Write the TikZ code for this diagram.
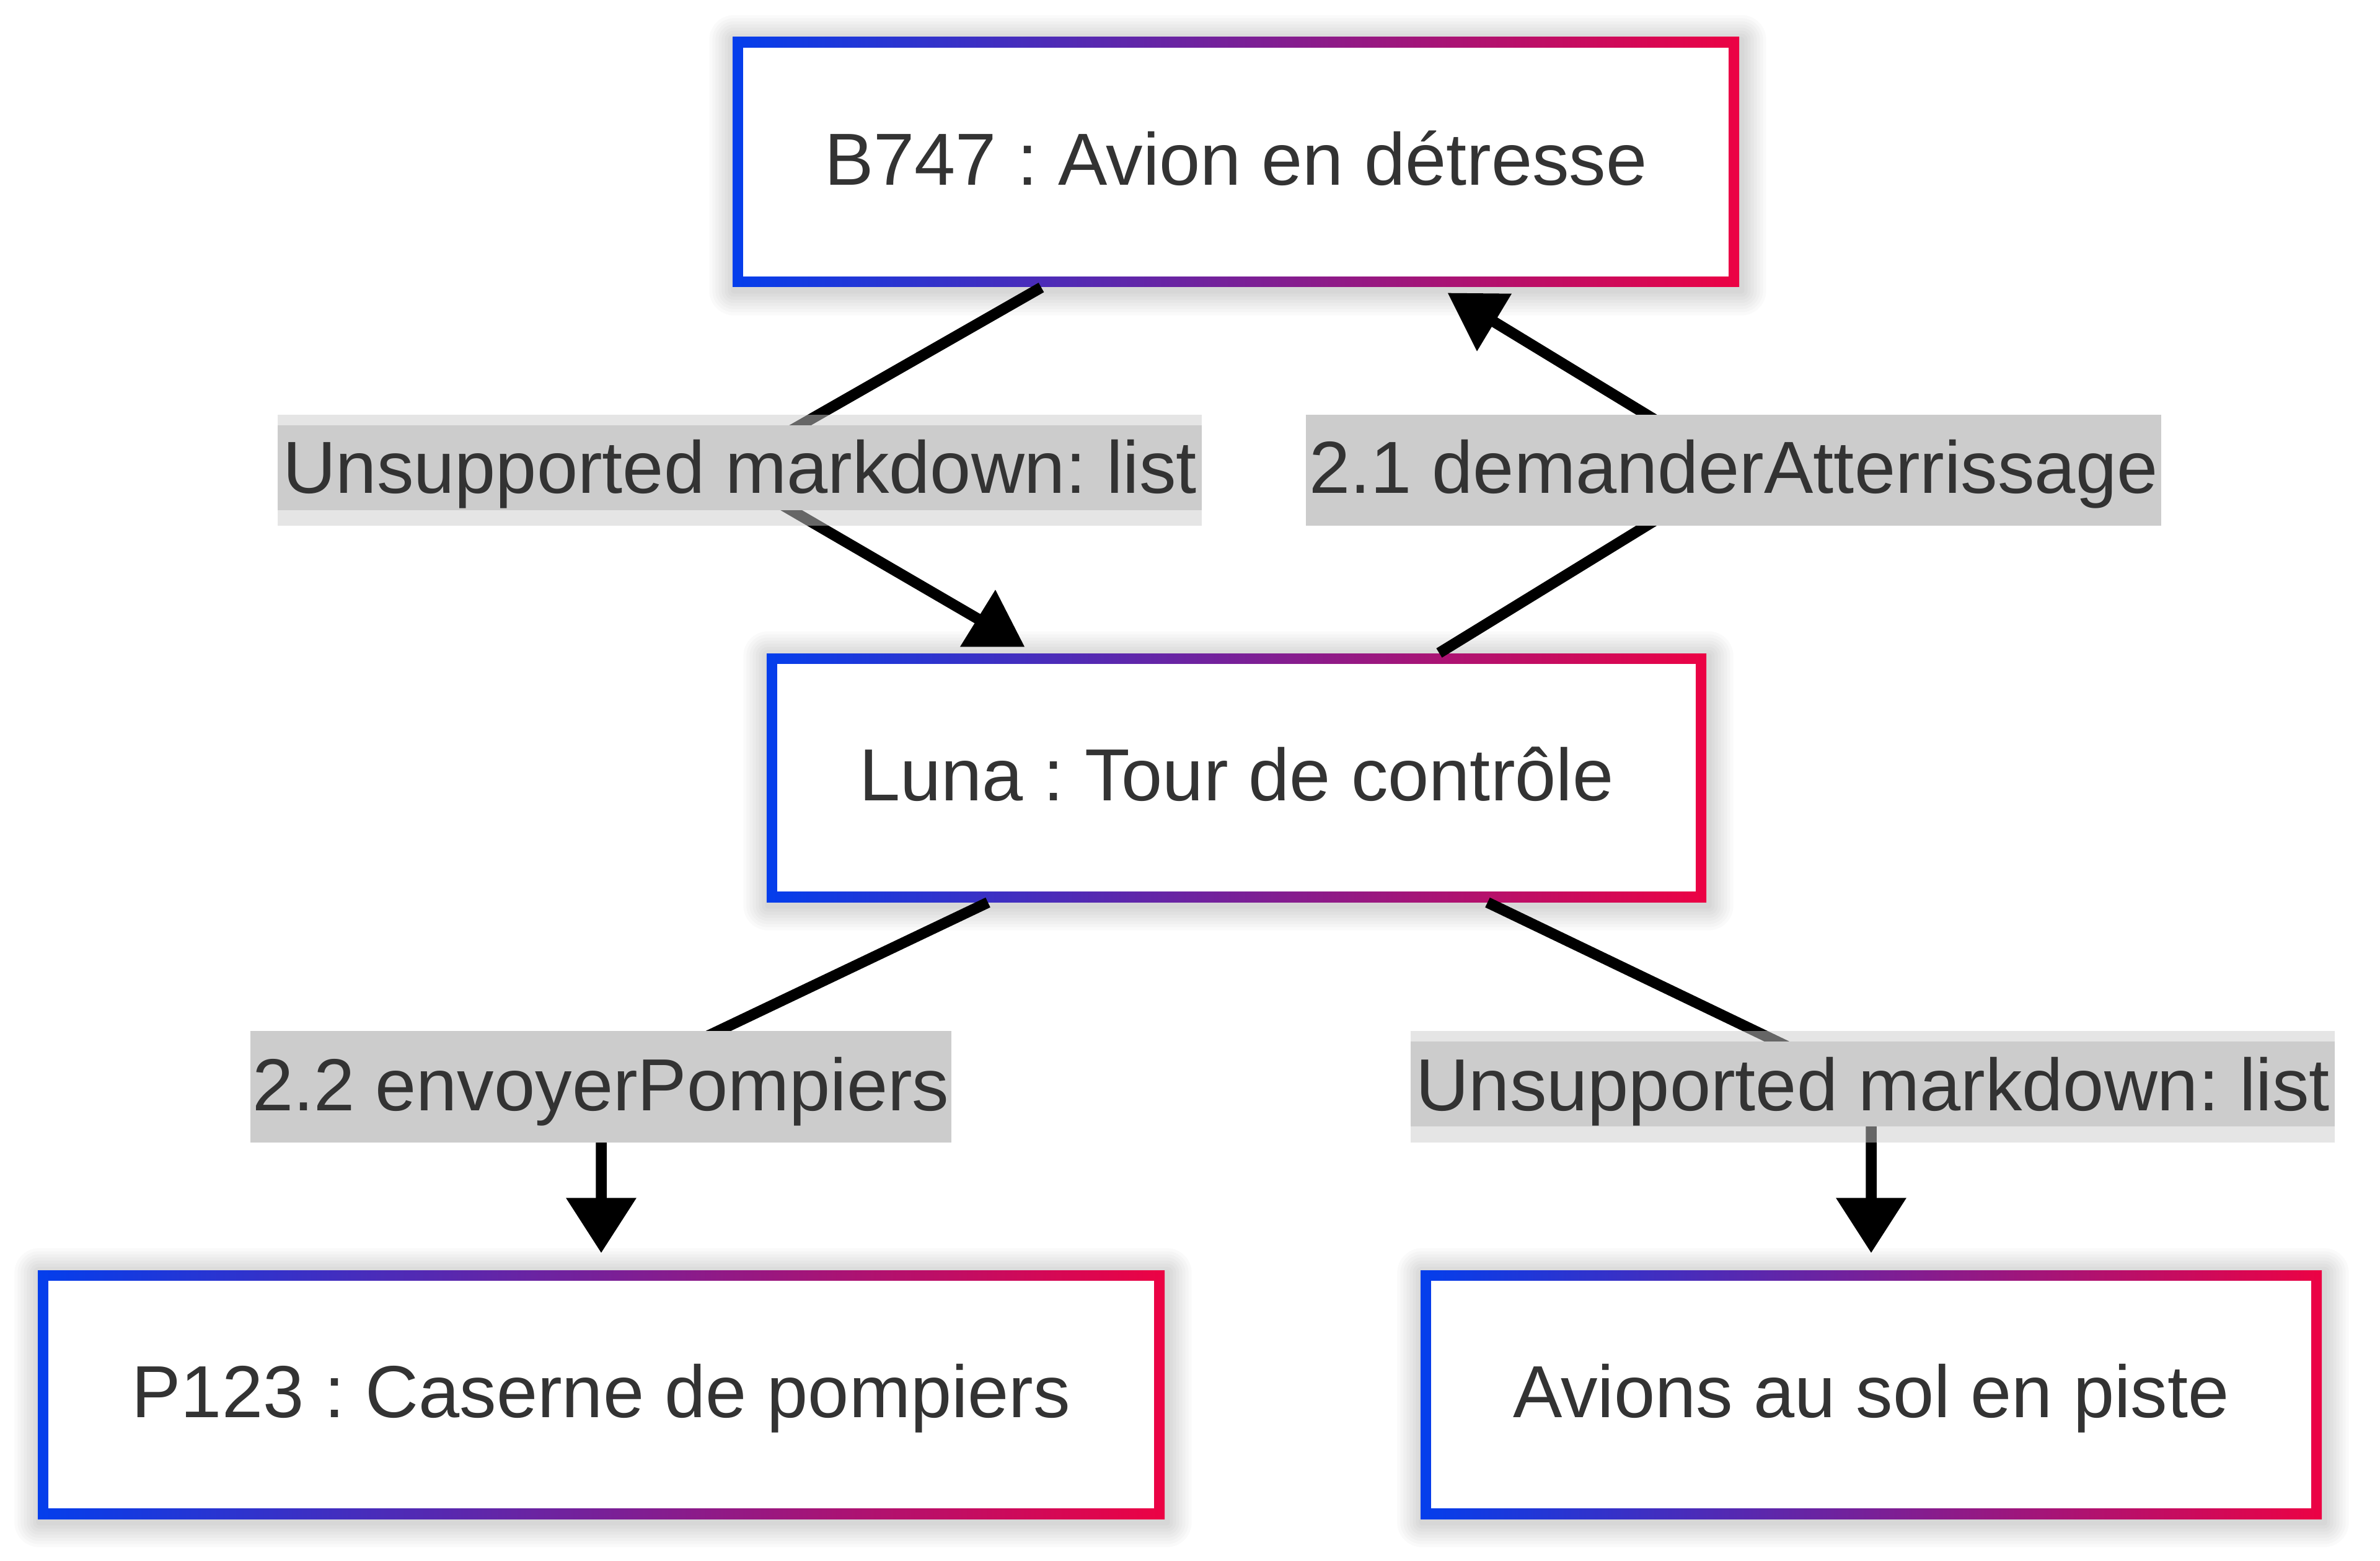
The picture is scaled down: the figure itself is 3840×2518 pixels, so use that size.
\documentclass[tikz,border=0pt]{standalone}
\usepackage{fontspec}
\setmainfont{Liberation Sans}
\frenchspacing
\usetikzlibrary{calc,arrows.meta,backgrounds}
\definecolor{bblue}{RGB}{4,62,236}
\definecolor{bred}{RGB}{236,2,68}
\definecolor{txt}{HTML}{333333}
\definecolor{lblgray}{HTML}{CCCCCC}
\tikzset{
  bigfont/.style={font=\fontsize{33.86pt}{40pt}\selectfont\frenchspacing},
  box/.style 2 args={rectangle, inner sep=0pt, minimum width=#1, minimum height=#2,
    left color=bblue, right color=bred, text=txt, bigfont,
    text height=8.5mm, text depth=1.1mm,
    path picture={\fill[white] ([shift={(1.7mm,-1.7mm)}]path picture bounding box.north west)
      rectangle ([shift={(-1.7mm,1.7mm)}]path picture bounding box.south east);}},
  lbl/.style={inner sep=0pt, text=txt, bigfont, text height=8.5mm, text depth=1.1mm},
  edge/.style={draw=black, line width=1.75mm},
  tip/.style={fill=black},
  vtip/.style={-{Triangle[length=8.9mm,width=10.9mm]}}
}
\begin{document}
\begin{tikzpicture}[x=0.1mm,y=-0.1mm]
\useasboundingbox (0,0) rectangle (3840,2518);

% nodes
\node[box={162.4mm}{40.3mm}] (top) at (1994,261.5) {B747 : Avion en détresse};
\node[box={151.6mm}{40.1mm}] (luna) at (1995,1254.5) {Luna : Tour de contrôle};
\node[box={181.8mm}{40.1mm}] (p123) at (970,2249.5) {P123 : Caserne de pompiers};
\node[box={145.4mm}{40.1mm}] (sol) at (3019,2249.5) {Avions au sol en piste};

% white page and soft shadows
\begin{pgfonlayer}{background}
\fill[white] (0,0) rectangle (3840,2518);
\foreach \n in {top,luna,p123,sol}{
  \foreach \k in {1,...,8}{
    \pgfmathsetlengthmacro\rr{\k*0.5mm}
    \pgfmathsetlengthmacro\ax{-\k*0.5mm+0.3mm}
    \pgfmathsetlengthmacro\ay{\k*0.5mm-0.5mm}
    \pgfmathsetlengthmacro\bx{\k*0.5mm+0.3mm}
    \pgfmathsetlengthmacro\by{-\k*0.5mm-0.5mm}
    \fill[black, fill opacity=0.02, rounded corners=\rr]
      ([shift={(\ax,\ay)}]\n.north west) rectangle ([shift={(\bx,\by)}]\n.south east);
  }
}
\end{pgfonlayer}

% bend points behind labels
\coordinate (v1) at (1165,758);
\coordinate (v2) at (2803,758);
\coordinate (v3) at (970,1753);
\coordinate (v4) at (3019,1753);

% connectors
\draw[edge] ($(top.south)+(-314,0)$) -- (v1) -- ($(luna.north)+(-400,-45)$);
\fill[tip] ($(luna.north)+(-446,-10)$) -- ($(luna.north)+(-342,-10)$) -- ($(luna.north)+(-389,-102)$) -- cycle;

\draw[edge] ($(luna.north)+(327,0)$) -- (v2) -- ($(top.south)+(406,49)$);
\fill[tip] ($(top.south)+(342,9)$) -- ($(top.south)+(445,10)$) -- ($(top.south)+(389,103)$) -- cycle;

\draw[edge, vtip] ($(luna.south)+(-401,0)$) -- (v3) -- ($(p123.north)+(0,-27)$);
\draw[edge, vtip] ($(luna.south)+(405,0)$) -- (v4) -- ($(sol.north)+(0,-27)$);

% labels
\fill[lblgray, fill opacity=0.5] (448,669) rectangle (1939,848);
\node[lbl, fill=lblgray, minimum width=149.1mm, minimum height=13.7mm, text depth=0.4mm] (l1) at (1193.5,754.5) {Unsupported markdown: list};

\node[lbl, fill=lblgray, minimum width=138mm, minimum height=17.9mm] (l2) at (2797,758.5) {2.1 demanderAtterrissage};

\node[lbl, fill=lblgray, minimum width=113.1mm, minimum height=18mm, text depth=0.9mm] (l3) at (969.5,1753) {2.2 envoyerPompiers};

\fill[lblgray, fill opacity=0.5] (2276,1663) rectangle (3767,1843);
\node[lbl, fill=lblgray, minimum width=149.1mm, minimum height=13.7mm, text depth=0mm] (l4) at (3021.5,1748.5) {Unsupported markdown: list};
\end{tikzpicture}
\end{document}
